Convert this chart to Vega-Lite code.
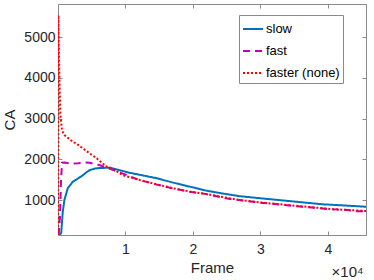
{
  "$schema": "https://vega.github.io/schema/vega-lite/v6.json",
  "width": 308,
  "height": 231,
  "autosize": {"type": "none"},
  "padding": {"left": 58, "top": 4, "right": 8, "bottom": 45},
  "background": "white",
  "config": {
    "view": {"stroke": null},
    "font": "Liberation Sans",
    "axis": {
      "labelFont": "Liberation Sans",
      "titleFont": "Liberation Sans",
      "labelFontSize": 14,
      "titleFontSize": 15,
      "titleFontWeight": "normal",
      "labelColor": "#262626",
      "titleColor": "#262626",
      "domainColor": "#8a8a8a",
      "tickColor": "#8a8a8a",
      "domainWidth": 1,
      "tickWidth": 1,
      "tickSize": -4,
      "grid": false
    },
    "legend": {
      "labelFont": "Liberation Sans",
      "labelFontSize": 13,
      "labelColor": "#000000"
    }
  },
  "data": {
    "values": [
      {"s": "slow", "x": 300, "y": 140},
      {"s": "slow", "x": 480, "y": 200},
      {"s": "slow", "x": 700, "y": 700},
      {"s": "slow", "x": 950, "y": 1000},
      {"s": "slow", "x": 1450, "y": 1290},
      {"s": "slow", "x": 2200, "y": 1450},
      {"s": "slow", "x": 2700, "y": 1500},
      {"s": "slow", "x": 3700, "y": 1610},
      {"s": "slow", "x": 4200, "y": 1680},
      {"s": "slow", "x": 4700, "y": 1735},
      {"s": "slow", "x": 5500, "y": 1775},
      {"s": "slow", "x": 6100, "y": 1785},
      {"s": "slow", "x": 7600, "y": 1795},
      {"s": "slow", "x": 8500, "y": 1760},
      {"s": "slow", "x": 9600, "y": 1715},
      {"s": "slow", "x": 10600, "y": 1670},
      {"s": "slow", "x": 12100, "y": 1620},
      {"s": "slow", "x": 14500, "y": 1540},
      {"s": "slow", "x": 17000, "y": 1430},
      {"s": "slow", "x": 19500, "y": 1330},
      {"s": "slow", "x": 22000, "y": 1230},
      {"s": "slow", "x": 24400, "y": 1160},
      {"s": "slow", "x": 26900, "y": 1095},
      {"s": "slow", "x": 30800, "y": 1030},
      {"s": "slow", "x": 35800, "y": 950},
      {"s": "slow", "x": 39200, "y": 895},
      {"s": "slow", "x": 42000, "y": 870},
      {"s": "slow", "x": 45660, "y": 835},
      {"s": "fast", "x": 100, "y": 140},
      {"s": "fast", "x": 300, "y": 600},
      {"s": "fast", "x": 450, "y": 1500},
      {"s": "fast", "x": 600, "y": 1915},
      {"s": "fast", "x": 1000, "y": 1920},
      {"s": "fast", "x": 2000, "y": 1895},
      {"s": "fast", "x": 3000, "y": 1905},
      {"s": "fast", "x": 4000, "y": 1920},
      {"s": "fast", "x": 4700, "y": 1915},
      {"s": "fast", "x": 6100, "y": 1860},
      {"s": "fast", "x": 7600, "y": 1775},
      {"s": "fast", "x": 9600, "y": 1650},
      {"s": "fast", "x": 12100, "y": 1490},
      {"s": "fast", "x": 14500, "y": 1385},
      {"s": "fast", "x": 17000, "y": 1285},
      {"s": "fast", "x": 19500, "y": 1205},
      {"s": "fast", "x": 22000, "y": 1145},
      {"s": "fast", "x": 25900, "y": 1010},
      {"s": "fast", "x": 26900, "y": 1000},
      {"s": "fast", "x": 30000, "y": 935},
      {"s": "fast", "x": 35800, "y": 840},
      {"s": "fast", "x": 40700, "y": 770},
      {"s": "fast", "x": 43000, "y": 755},
      {"s": "fast", "x": 44000, "y": 725},
      {"s": "fast", "x": 45660, "y": 720},
      {"s": "faster (none)", "x": 0, "y": 140},
      {"s": "faster (none)", "x": 40, "y": 5540},
      {"s": "faster (none)", "x": 150, "y": 4500},
      {"s": "faster (none)", "x": 250, "y": 3700},
      {"s": "faster (none)", "x": 350, "y": 3100},
      {"s": "faster (none)", "x": 600, "y": 2700},
      {"s": "faster (none)", "x": 1000, "y": 2590},
      {"s": "faster (none)", "x": 2200, "y": 2430},
      {"s": "faster (none)", "x": 2700, "y": 2390},
      {"s": "faster (none)", "x": 4700, "y": 2145},
      {"s": "faster (none)", "x": 5700, "y": 2030},
      {"s": "faster (none)", "x": 7100, "y": 1830},
      {"s": "faster (none)", "x": 8100, "y": 1770},
      {"s": "faster (none)", "x": 9600, "y": 1610},
      {"s": "faster (none)", "x": 12100, "y": 1490},
      {"s": "faster (none)", "x": 14500, "y": 1390},
      {"s": "faster (none)", "x": 17000, "y": 1290},
      {"s": "faster (none)", "x": 19500, "y": 1210},
      {"s": "faster (none)", "x": 22000, "y": 1145},
      {"s": "faster (none)", "x": 26900, "y": 1000},
      {"s": "faster (none)", "x": 30000, "y": 940},
      {"s": "faster (none)", "x": 35800, "y": 850},
      {"s": "faster (none)", "x": 40700, "y": 775},
      {"s": "faster (none)", "x": 45660, "y": 730}
    ]
  },
  "layer": [
    {
      "mark": {"type": "line", "strokeWidth": 2, "clip": true},
      "encoding": {
        "x": {
          "field": "x", "type": "quantitative",
          "scale": {"domain": [0, 45660], "nice": false, "zero": false},
          "axis": {"orient": "bottom", "title": "Frame", "values": [10000, 20000, 30000, 40000],
                   "labelExpr": "datum.value / 10000", "labelPadding": 11, "titlePadding": 4}
        },
        "y": {
          "field": "y", "type": "quantitative",
          "scale": {"domain": [140, 5818], "nice": false, "zero": false},
          "axis": {"orient": "left", "title": "CA", "values": [1000, 2000, 3000, 4000, 5000],
                   "format": "d", "labelPadding": 7, "titlePadding": 6}
        },
        "color": {
          "field": "s", "type": "nominal",
          "scale": {"domain": ["slow", "fast", "faster (none)"], "range": ["#0072BD", "#C000C0", "#FF0000"]},
          "legend": {
            "title": null, "orient": "none", "legendX": 181, "legendY": 11,
            "symbolType": "stroke", "symbolSize": 400, "symbolStrokeWidth": 2,
            "strokeColor": "#8a8a8a", "fillColor": "white", "padding": 3,
            "rowPadding": 4, "labelOffset": 2
          }
        },
        "strokeDash": {
          "field": "s", "type": "nominal",
          "scale": {"domain": ["slow", "fast", "faster (none)"], "range": [[1, 0], [7, 5], [2, 2]]},
          "legend": null
        },
        "order": {"field": "x", "type": "quantitative"}
      }
    },
    {
      "mark": {"type": "point", "opacity": 0},
      "encoding": {
        "x": {
          "field": "x", "type": "quantitative",
          "axis": {"orient": "top", "title": "×10⁴", "labels": false, "values": [10000, 20000, 30000, 40000],
                   "titleX": 305, "titleY": 267, "titleAlign": "right", "titleBaseline": "middle",
                   "titleFontSize": 15, "titleAngle": 0}
        },
        "y": {
          "field": "y", "type": "quantitative",
          "axis": {"orient": "right", "title": null, "labels": false, "values": [1000, 2000, 3000, 4000, 5000]}
        }
      }
    }
  ],
  "resolve": {"axis": {"x": "independent", "y": "independent"}}
}
